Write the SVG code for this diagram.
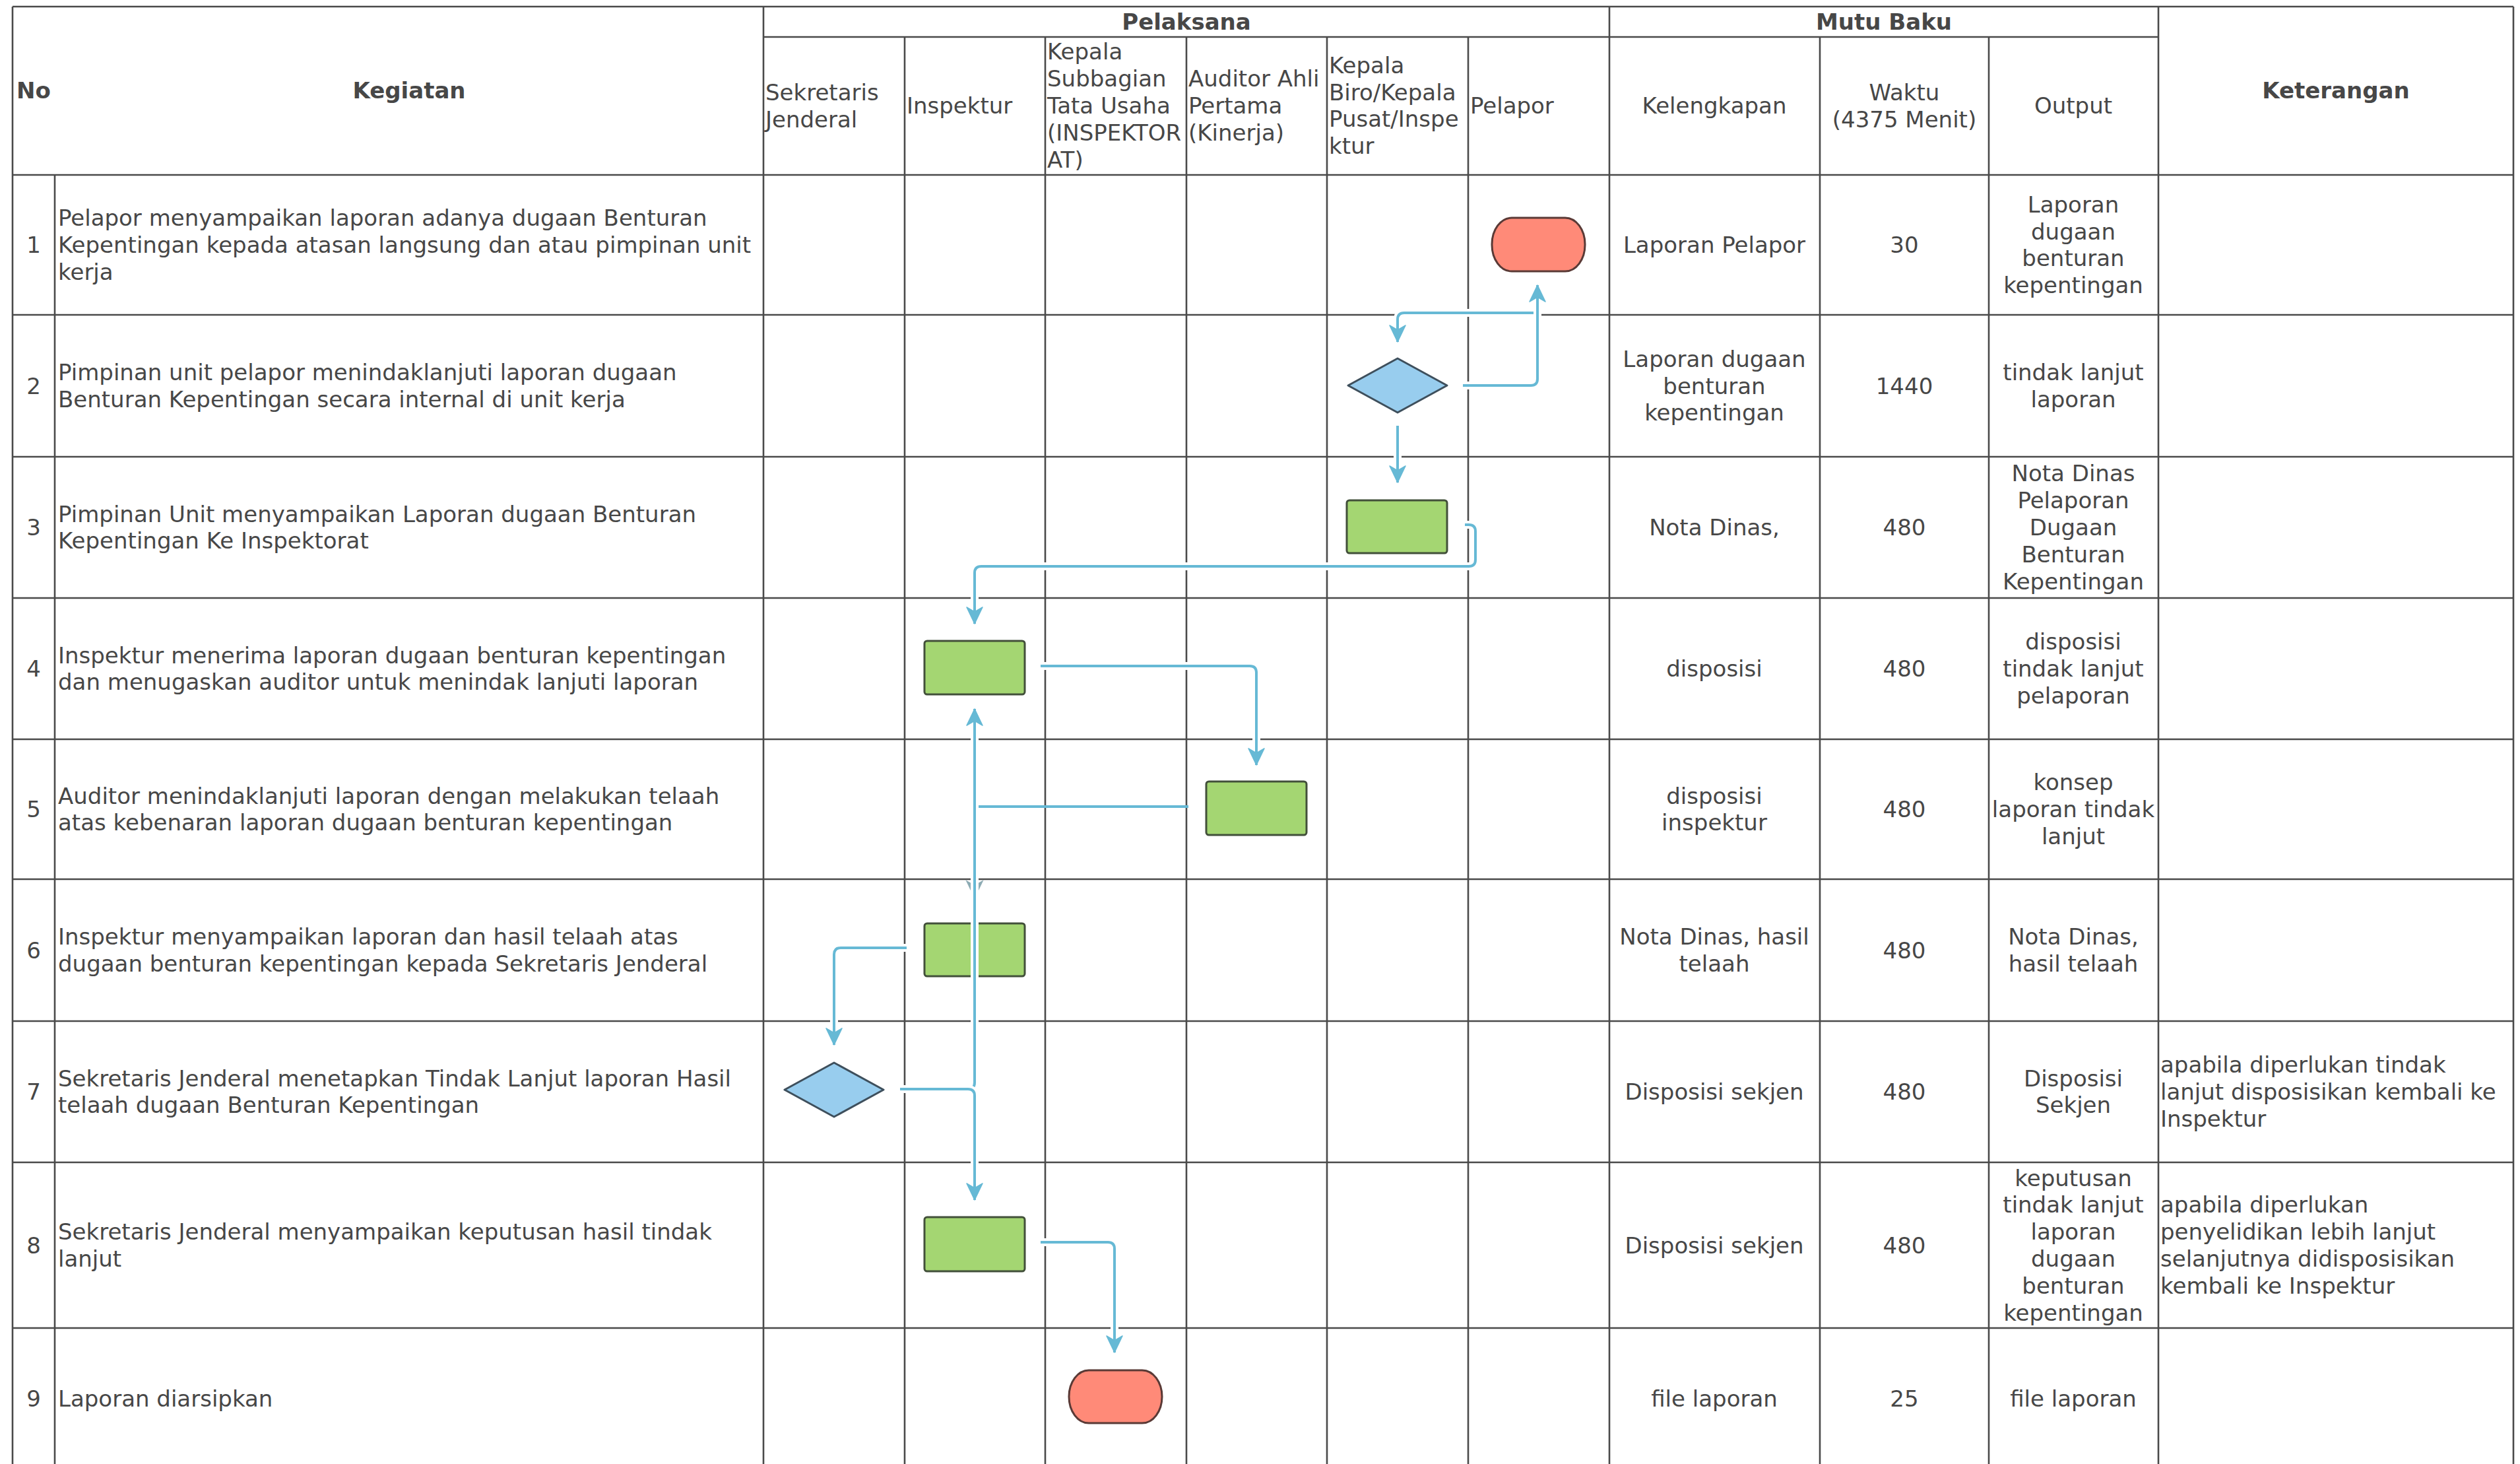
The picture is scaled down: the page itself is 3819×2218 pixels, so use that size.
<svg xmlns="http://www.w3.org/2000/svg" width="3819" height="2218" viewBox="0 0 3819 2218">
<style>
.grid line{stroke:#4a4a4a;stroke-width:2.6}
.t{font-family:"DejaVu Sans","Liberation Sans",sans-serif;font-size:34px;fill:#474747;dominant-baseline:central}
.c{text-anchor:middle}
.b{font-weight:bold}
.proc{fill:#a4d672;stroke:#42503a;stroke-width:3}
.term{fill:#ff8a78;stroke:#5a3a36;stroke-width:3}
.dec{fill:#98cdee;stroke:#3e4f5c;stroke-width:3;stroke-linejoin:round}
.halo{fill:none;stroke:#fff;stroke-width:12}
.ln{fill:none;stroke:#66b9d5;stroke-width:4}
</style>
<defs>
<marker id="arr" markerUnits="userSpaceOnUse" viewBox="-27 -14 29 28" markerWidth="29" markerHeight="28" refX="0" refY="0" orient="auto">
<path d="M0,0 L-25,-12 L-18,0 L-25,12 Z" fill="#66b9d5" stroke="#66b9d5" stroke-width="1.5" stroke-linejoin="round"/>
</marker>
<marker id="arrFaint" markerUnits="userSpaceOnUse" viewBox="-27 -14 29 28" markerWidth="29" markerHeight="28" refX="0" refY="0" orient="auto">
<path d="M0,0 L-25,-12 L-18,0 L-25,12 Z" fill="#7b9ea8" stroke="#7b9ea8" stroke-width="1.5" opacity="0.85"/>
</marker>
</defs>
<rect x="0" y="0" width="3819" height="2218" fill="#fff"/>

<g id="table" class="grid">
<line x1="19" y1="10" x2="3809" y2="10"/>
<line x1="1157" y1="56" x2="3271" y2="56"/>
<line x1="19" y1="265" x2="3809" y2="265"/>
<line x1="19" y1="477" x2="3809" y2="477"/>
<line x1="19" y1="692" x2="3809" y2="692"/>
<line x1="19" y1="906" x2="3809" y2="906"/>
<line x1="19" y1="1120" x2="3809" y2="1120"/>
<line x1="19" y1="1332" x2="3809" y2="1332"/>
<line x1="19" y1="1547" x2="3809" y2="1547"/>
<line x1="19" y1="1761" x2="3809" y2="1761"/>
<line x1="19" y1="2012" x2="3809" y2="2012"/>
<line x1="19" y1="10" x2="19" y2="2218"/>
<line x1="83" y1="265" x2="83" y2="2218"/>
<line x1="1157" y1="10" x2="1157" y2="2218"/>
<line x1="1371" y1="56" x2="1371" y2="2218"/>
<line x1="1584" y1="56" x2="1584" y2="2218"/>
<line x1="1798" y1="56" x2="1798" y2="2218"/>
<line x1="2011" y1="56" x2="2011" y2="2218"/>
<line x1="2225" y1="56" x2="2225" y2="2218"/>
<line x1="2439" y1="10" x2="2439" y2="2218"/>
<line x1="2758" y1="56" x2="2758" y2="2218"/>
<line x1="3014" y1="56" x2="3014" y2="2218"/>
<line x1="3271" y1="10" x2="3271" y2="2218"/>
<line x1="3809" y1="10" x2="3809" y2="2218"/>
</g>

<g id="headers">
<text class="t b c" x="51" y="137">No</text>
<text class="t b c" x="620" y="137">Kegiatan</text>
<text class="t b c" x="1798" y="33">Pelaksana</text>
<text class="t b c" x="2855" y="33">Mutu Baku</text>
<text class="t b c" x="3540" y="137">Keterangan</text>
<text class="t" x="1160" y="140">Sekretaris<tspan x="1160" dy="40.8">Jenderal</tspan></text>
<text class="t" x="1374" y="160">Inspektur</text>
<text class="t" x="1587" y="78.4">Kepala<tspan x="1587" dy="40.8">Subbagian</tspan><tspan x="1587" dy="40.8">Tata Usaha</tspan><tspan x="1587" dy="40.8">(INSPEKTOR</tspan><tspan x="1587" dy="40.8">AT)</tspan></text>
<text class="t" x="1801" y="119.2">Auditor Ahli<tspan x="1801" dy="40.8">Pertama</tspan><tspan x="1801" dy="40.8">(Kinerja)</tspan></text>
<text class="t" x="2014" y="98.8">Kepala<tspan x="2014" dy="40.8">Biro/Kepala</tspan><tspan x="2014" dy="40.8">Pusat/Inspe</tspan><tspan x="2014" dy="40.8">ktur</tspan></text>
<text class="t" x="2228" y="160">Pelapor</text>
<text class="t c" x="2598" y="160">Kelengkapan</text>
<text class="t c" x="2886" y="140">Waktu<tspan x="2886" dy="40.8">(4375 Menit)</tspan></text>
<text class="t c" x="3142" y="160">Output</text>
</g>

<g id="row-1">
<text class="t c" x="51" y="371">1</text>
<text class="t" x="88" y="330.2">Pelapor menyampaikan laporan adanya dugaan Benturan<tspan x="88" dy="40.8">Kepentingan kepada atasan langsung dan atau pimpinan unit</tspan><tspan x="88" dy="40.8">kerja</tspan></text>
<text class="t c" x="2598" y="371">Laporan Pelapor</text>
<text class="t c" x="2886" y="371">30</text>
<text class="t c" x="3142" y="309.8">Laporan<tspan x="3142" dy="40.8">dugaan</tspan><tspan x="3142" dy="40.8">benturan</tspan><tspan x="3142" dy="40.8">kepentingan</tspan></text>
</g>
<g id="row-2">
<text class="t c" x="51" y="584.5">2</text>
<text class="t" x="88" y="564.1">Pimpinan unit pelapor menindaklanjuti laporan dugaan<tspan x="88" dy="40.8">Benturan Kepentingan secara internal di unit kerja</tspan></text>
<text class="t c" x="2598" y="543.7">Laporan dugaan<tspan x="2598" dy="40.8">benturan</tspan><tspan x="2598" dy="40.8">kepentingan</tspan></text>
<text class="t c" x="2886" y="584.5">1440</text>
<text class="t c" x="3142" y="564.1">tindak lanjut<tspan x="3142" dy="40.8">laporan</tspan></text>
</g>
<g id="row-3">
<text class="t c" x="51" y="799">3</text>
<text class="t" x="88" y="778.6">Pimpinan Unit menyampaikan Laporan dugaan Benturan<tspan x="88" dy="40.8">Kepentingan Ke Inspektorat</tspan></text>
<text class="t c" x="2598" y="799">Nota Dinas,</text>
<text class="t c" x="2886" y="799">480</text>
<text class="t c" x="3142" y="717.4">Nota Dinas<tspan x="3142" dy="40.8">Pelaporan</tspan><tspan x="3142" dy="40.8">Dugaan</tspan><tspan x="3142" dy="40.8">Benturan</tspan><tspan x="3142" dy="40.8">Kepentingan</tspan></text>
</g>
<g id="row-4">
<text class="t c" x="51" y="1013">4</text>
<text class="t" x="88" y="992.6">Inspektur menerima laporan dugaan benturan kepentingan<tspan x="88" dy="40.8">dan menugaskan auditor untuk menindak lanjuti laporan</tspan></text>
<text class="t c" x="2598" y="1013">disposisi</text>
<text class="t c" x="2886" y="1013">480</text>
<text class="t c" x="3142" y="972.2">disposisi<tspan x="3142" dy="40.8">tindak lanjut</tspan><tspan x="3142" dy="40.8">pelaporan</tspan></text>
</g>
<g id="row-5">
<text class="t c" x="51" y="1226">5</text>
<text class="t" x="88" y="1205.6">Auditor menindaklanjuti laporan dengan melakukan telaah<tspan x="88" dy="40.8">atas kebenaran laporan dugaan benturan kepentingan</tspan></text>
<text class="t c" x="2598" y="1205.6">disposisi<tspan x="2598" dy="40.8">inspektur</tspan></text>
<text class="t c" x="2886" y="1226">480</text>
<text class="t c" x="3142" y="1185.2">konsep<tspan x="3142" dy="40.8">laporan tindak</tspan><tspan x="3142" dy="40.8">lanjut</tspan></text>
</g>
<g id="row-6">
<text class="t c" x="51" y="1439.5">6</text>
<text class="t" x="88" y="1419.1">Inspektur menyampaikan laporan dan hasil telaah atas<tspan x="88" dy="40.8">dugaan benturan kepentingan kepada Sekretaris Jenderal</tspan></text>
<text class="t c" x="2598" y="1419.1">Nota Dinas, hasil<tspan x="2598" dy="40.8">telaah</tspan></text>
<text class="t c" x="2886" y="1439.5">480</text>
<text class="t c" x="3142" y="1419.1">Nota Dinas,<tspan x="3142" dy="40.8">hasil telaah</tspan></text>
</g>
<g id="row-7">
<text class="t c" x="51" y="1654">7</text>
<text class="t" x="88" y="1633.6">Sekretaris Jenderal menetapkan Tindak Lanjut laporan Hasil<tspan x="88" dy="40.8">telaah dugaan Benturan Kepentingan</tspan></text>
<text class="t c" x="2598" y="1654">Disposisi sekjen</text>
<text class="t c" x="2886" y="1654">480</text>
<text class="t c" x="3142" y="1633.6">Disposisi<tspan x="3142" dy="40.8">Sekjen</tspan></text>
<text class="t" x="3274" y="1613.2">apabila diperlukan tindak<tspan x="3274" dy="40.8">lanjut disposisikan kembali ke</tspan><tspan x="3274" dy="40.8">Inspektur</tspan></text>
</g>
<g id="row-8">
<text class="t c" x="51" y="1886.5">8</text>
<text class="t" x="88" y="1866.1">Sekretaris Jenderal menyampaikan keputusan hasil tindak<tspan x="88" dy="40.8">lanjut</tspan></text>
<text class="t c" x="2598" y="1886.5">Disposisi sekjen</text>
<text class="t c" x="2886" y="1886.5">480</text>
<text class="t c" x="3142" y="1784.5">keputusan<tspan x="3142" dy="40.8">tindak lanjut</tspan><tspan x="3142" dy="40.8">laporan</tspan><tspan x="3142" dy="40.8">dugaan</tspan><tspan x="3142" dy="40.8">benturan</tspan><tspan x="3142" dy="40.8">kepentingan</tspan></text>
<text class="t" x="3274" y="1825.3">apabila diperlukan<tspan x="3274" dy="40.8">penyelidikan lebih lanjut</tspan><tspan x="3274" dy="40.8">selanjutnya didisposisikan</tspan><tspan x="3274" dy="40.8">kembali ke Inspektur</tspan></text>
</g>
<g id="row-9">
<text class="t c" x="51" y="2119">9</text>
<text class="t" x="88" y="2119">Laporan diarsipkan</text>
<text class="t c" x="2598" y="2119">file laporan</text>
<text class="t c" x="2886" y="2119">25</text>
<text class="t c" x="3142" y="2119">file laporan</text>
</g>

<g id="node-start"><rect class="term" x="2261" y="330" width="141" height="81" rx="30" ry="40"/></g>
<g id="node-decision-2"><polygon class="dec" points="2043,584 2118,543 2193,584 2118,625"/></g>
<g id="node-process-3"><rect class="proc" x="2041" y="758" width="152" height="80" rx="4"/></g>
<g id="node-process-4"><rect class="proc" x="1401" y="971" width="152" height="81" rx="4"/></g>
<g id="node-process-5"><rect class="proc" x="1828" y="1184" width="152" height="81" rx="4"/></g>
<g id="node-process-6"><rect class="proc" x="1401" y="1399" width="152" height="80" rx="4"/></g>
<g id="node-decision-7"><polygon class="dec" points="1189,1651 1264,1610 1339,1651 1264,1692"/></g>
<g id="node-process-8"><rect class="proc" x="1401" y="1844" width="152" height="82" rx="4"/></g>
<g id="node-end"><rect class="term" x="1620" y="2076" width="141" height="80" rx="30" ry="40"/></g>

<g id="connectors">
<path class="halo" d="M2324,474 H2128 Q2118,474 2118,484 V512"/>
<path class="ln" d="M2324,474 H2128 Q2118,474 2118,484 V518" marker-end="url(#arr)"/>
<path class="halo" d="M2118,645 V725"/>
<path class="ln" d="M2118,645 V731" marker-end="url(#arr)"/>
<path class="halo" d="M2220,795 H2226 Q2236,795 2236,805 V848 Q2236,858 2226,858 H1487 Q1477,858 1477,868 V939"/>
<path class="ln" d="M2220,795 H2226 Q2236,795 2236,805 V848 Q2236,858 2226,858 H1487 Q1477,858 1477,868 V945" marker-end="url(#arr)"/>
<path class="halo" d="M1577,1009 H1894 Q1904,1009 1904,1019 V1153"/>
<path class="ln" d="M1577,1009 H1894 Q1904,1009 1904,1019 V1159" marker-end="url(#arr)"/>
<path class="ln" d="M1801,1222 H1477 V1360" marker-end="url(#arrFaint)"/>
<path class="halo" d="M1374,1436 H1274 Q1264,1436 1264,1446 V1577"/>
<path class="ln" d="M1374,1436 H1274 Q1264,1436 1264,1446 V1583" marker-end="url(#arr)"/>
<path class="halo" d="M1577,1882 H1679 Q1689,1882 1689,1892 V2043"/>
<path class="ln" d="M1577,1882 H1679 Q1689,1882 1689,1892 V2049" marker-end="url(#arr)"/>
<path class="halo" d="M2217,584 H2320 Q2330,584 2330,574 V438"/>
<path class="ln" d="M2217,584 H2320 Q2330,584 2330,574 V432" marker-end="url(#arr)"/>
<path class="halo" d="M1364,1650 H1467 Q1477,1650 1477,1640 V1080" stroke-width="9"/>
<path class="ln" d="M1364,1650 H1467 Q1477,1650 1477,1640 V1074" marker-end="url(#arr)"/>
<path class="halo" d="M1364,1650 H1467 Q1477,1650 1477,1660 V1812" stroke-width="9"/>
<path class="ln" d="M1364,1650 H1467 Q1477,1650 1477,1660 V1818" marker-end="url(#arr)"/>
</g>
</svg>
